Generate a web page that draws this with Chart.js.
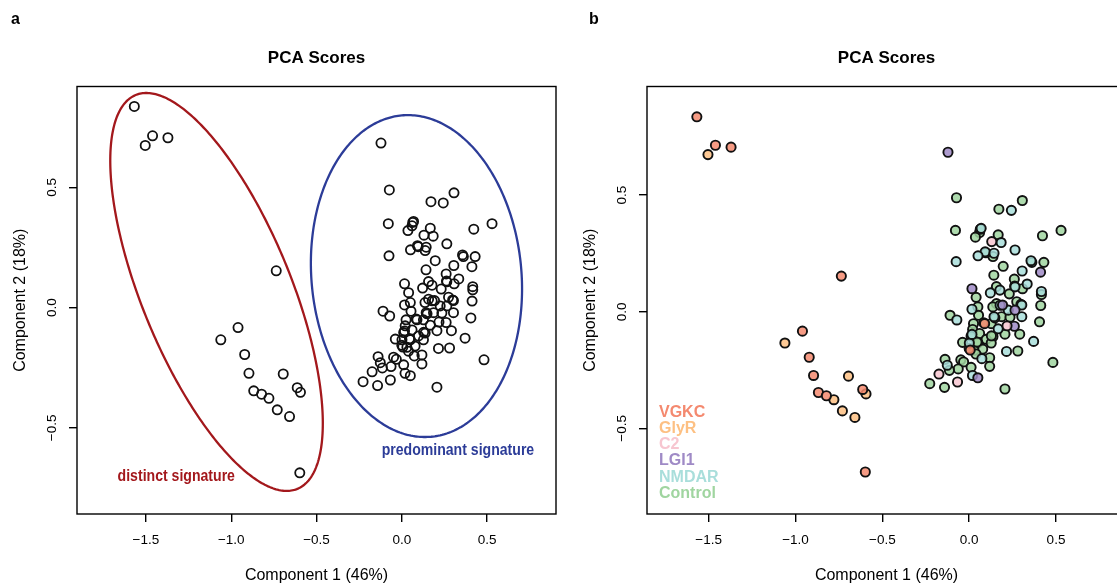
<!DOCTYPE html>
<html>
<head>
<meta charset="utf-8">
<script src="https://cdn.jsdelivr.net/npm/chart.js@4.4.1/dist/chart.umd.min.js"></script>
<style>
  html, body { margin: 0; padding: 0; background: #fff; overflow: hidden; }
  #wrap { position: relative; width: 1117px; height: 583px; overflow: hidden; }
  canvas { position: absolute; top: 0; }
  #pcaA { left: 0; }
  #pcaB { left: 570px; }
</style>
</head>
<body>
<div id="wrap">
  <canvas id="pcaA" width="570" height="583"></canvas>
  <canvas id="pcaB" width="570" height="583"></canvas>
</div>
<script>
// ---- data ----
const groups = ['VGKC', 'GlyR', 'C2', 'LGI1', 'NMDAR', 'Control'];
const groupColors = ['#F4896F', '#FDC083', '#F7C6D0', '#9F8AC6', '#A9DEDB', '#A0D5A0'];

const pcX = [
  -1.568, -1.461, -1.504, -1.371, -0.736, -0.960, -1.061, -0.921, -0.896, -0.695,
  -0.868, -0.822, -0.779, -0.613, -0.594, -0.730, -0.658, -0.598,
  -0.122, -0.073, 0.306, 0.171, 0.243, -0.079, 0.069, 0.060, 0.036, 0.167,
  0.130, 0.184, 0.422, 0.529, 0.264, 0.092, 0.051, 0.143, 0.137, -0.075,
  0.356, 0.361, 0.430, 0.196, 0.305, 0.411, 0.142, 0.260, 0.334, 0.264,
  0.157, 0.016, 0.122, 0.177, 0.231, 0.307, 0.416, 0.416, 0.040,
  0.016, 0.050, 0.157, 0.192, 0.136, 0.274, 0.303, 0.412, 0.225, 0.264,
  -0.110, -0.071, 0.054, 0.143, 0.186, 0.235, 0.303, 0.260, 0.218, 0.405,
  0.025, 0.089, 0.127, 0.167, 0.206, 0.291, 0.020, 0.060, 0.011, 0.137,
  0.098, -0.038, 0.001, 0.050, 0.127, 0.371, 0.030, 0.006, 0.078, 0.215,
  0.280, 0.039, 0.073, 0.118, -0.139, -0.048, -0.032, -0.126, -0.063, -0.114,
  0.011, 0.118, 0.482, -0.174, 0.019, 0.050, -0.227, -0.142, -0.067, 0.206,
  0.148, 0.084, 0.016, 0.045, 0.000, 0.128, 0.178, 0.262, 0.298, 0.064, 0.096
];
const pcY = [
  0.836, 0.714, 0.674, 0.706, 0.153, -0.083, -0.134, -0.195, -0.273, -0.276,
  -0.346, -0.360, -0.377, -0.333, -0.352, -0.425, -0.453, -0.687,
  0.684, 0.489, 0.477, 0.440, 0.435, 0.349, 0.358, 0.340, 0.320, 0.330,
  0.301, 0.297, 0.326, 0.349, 0.265, 0.257, 0.240, 0.251, 0.237, 0.215,
  0.219, 0.212, 0.212, 0.195, 0.175, 0.170, 0.157, 0.140, 0.119, 0.107,
  0.108, 0.099, 0.081, 0.093, 0.077, 0.099, 0.087, 0.074, 0.062,
  0.011, 0.021, 0.035, 0.029, 0.021, 0.043, 0.029, 0.027, 0.007, 0.007,
  -0.015, -0.035, -0.015, -0.021, -0.021, -0.023, -0.021, -0.062, -0.060, -0.043,
  -0.051, -0.051, -0.051, -0.073, -0.096, -0.096, -0.076, -0.093, -0.104, -0.106,
  -0.118, -0.131, -0.134, -0.134, -0.134, -0.127, -0.165, -0.164, -0.160, -0.170,
  -0.168, -0.181, -0.201, -0.197, -0.204, -0.206, -0.215, -0.229, -0.245, -0.251,
  -0.238, -0.234, -0.217, -0.267, -0.273, -0.283, -0.308, -0.324, -0.301, -0.331,
  -0.026, -0.047, -0.097, -0.130, -0.157, -0.103, 0.028, 0.110, 0.032, 0.354, 0.253
];
const pcGroup = [
  'VGKC', 'VGKC', 'GlyR', 'VGKC', 'VGKC', 'VGKC', 'GlyR', 'VGKC', 'VGKC', 'GlyR',
  'VGKC', 'VGKC', 'GlyR', 'VGKC', 'GlyR', 'GlyR', 'GlyR', 'VGKC',
  'LGI1', 'Control', 'Control', 'Control', 'NMDAR', 'Control', 'NMDAR', 'Control', 'Control', 'Control',
  'C2', 'NMDAR', 'Control', 'Control', 'NMDAR', 'NMDAR', 'NMDAR', 'NMDAR', 'Control', 'NMDAR',
  'NMDAR', 'Control', 'Control', 'Control', 'NMDAR', 'LGI1', 'Control', 'Control', 'NMDAR', 'NMDAR',
  'Control', 'LGI1', 'NMDAR', 'NMDAR', 'Control', 'Control', 'NMDAR', 'Control', 'Control',
  'NMDAR', 'Control', 'Control', 'LGI1', 'Control', 'Control', 'NMDAR', 'Control', 'NMDAR', 'LGI1',
  'Control', 'NMDAR', 'Control', 'NMDAR', 'Control', 'Control', 'NMDAR', 'LGI1', 'C2', 'Control',
  'Control', 'VGKC', 'Control', 'NMDAR', 'Control', 'Control', 'Control', 'Control', 'Control', 'Control',
  'Control', 'Control', 'NMDAR', 'Control', 'Control', 'NMDAR', 'Control', 'VGKC', 'Control', 'NMDAR',
  'Control', 'Control', 'NMDAR', 'Control', 'Control', 'Control', 'Control', 'NMDAR', 'Control', 'Control',
  'Control', 'Control', 'Control', 'C2', 'NMDAR', 'LGI1', 'Control', 'Control', 'C2', 'Control',
  'Control', 'Control', 'NMDAR', 'Control', 'Control', 'Control', 'NMDAR', 'Control', 'Control', 'Control', 'Control'
];

const xTicks = [-1.5, -1.0, -0.5, 0.0, 0.5];
const xTickLabels = ['\u22121.5', '\u22121.0', '\u22120.5', '0.0', '0.5'];
const yTicks = [-0.5, 0.0, 0.5];
const yTickLabels = ['\u22120.5', '0.0', '0.5'];

// signature ellipses (centre, half extents, correlation) in data units
const signatures = [
  { cx: -1.086, cy: 0.065, sx: 0.623, sy: 0.827, r: -0.66, color: '#A3181C',
    label: 'distinct signature', lx: -1.322, ly: -0.704 },
  { cx: 0.086, cy: 0.131, sx: 0.619, sy: 0.669, r: -0.08, color: '#2C3C98',
    label: 'predominant signature', lx: 0.329, ly: -0.592 }
];

const FONT = '"Liberation Sans", Arial, Helvetica, sans-serif';

function axis(min, max, ticks, labels, isX) {
  return {
    type: 'linear', min: min, max: max,
    afterBuildTicks: s => { s.ticks = ticks.map(v => ({ value: v })); },
    afterFit: s => { if (isX) s.height = 69; else s.width = 77; },
    border: { display: false },
    grid: { drawOnChartArea: false, drawTicks: true, tickLength: 8, color: '#000', lineWidth: 1.4 },
    ticks: isX
      ? { display: true, autoSkip: false, maxRotation: 0, padding: 10.5, color: '#000',
          font: { family: FONT, size: 13.5 }, callback: (v, i) => labels[i] }
      : { display: false }
  };
}

function decor(p) {
  return {
    id: 'decor',
    beforeDatasetsDraw(chart) {
      if (!p.ellipses) return;
      const { ctx, chartArea: a, scales: { x, y } } = chart;
      ctx.save();
      ctx.beginPath();
      ctx.rect(a.left, a.top, a.right - a.left, a.bottom - a.top);
      ctx.clip();
      p.ellipses.forEach(e => {
        const k = Math.sqrt(1 - e.r * e.r);
        ctx.beginPath();
        for (let i = 0; i <= 360; i++) {
          const t = i / 360 * 2 * Math.PI;
          const px = x.getPixelForValue(e.cx + e.sx * Math.cos(t));
          const py = y.getPixelForValue(e.cy + e.sy * (e.r * Math.cos(t) + k * Math.sin(t)));
          if (i) ctx.lineTo(px, py); else ctx.moveTo(px, py);
        }
        ctx.closePath();
        ctx.strokeStyle = e.color;
        ctx.lineWidth = 2.3;
        ctx.stroke();

        ctx.save();
        ctx.translate(x.getPixelForValue(e.lx), y.getPixelForValue(e.ly) + 4.5);
        ctx.scale(0.88, 1);
        ctx.font = 'bold 16px ' + FONT;
        ctx.fillStyle = e.color;
        ctx.textAlign = 'center';
        ctx.textBaseline = 'alphabetic';
        ctx.fillText(e.label, 0, 0);
        ctx.restore();
      });
      ctx.restore();
    },
    afterDraw(chart) {
      const { ctx, chartArea: a, scales: { y } } = chart;
      ctx.save();
      ctx.strokeStyle = '#000';
      ctx.lineWidth = 1.4;
      ctx.strokeRect(a.left, a.top, a.right - a.left, a.bottom - a.top);

      ctx.fillStyle = '#000';
      ctx.textBaseline = 'alphabetic';
      ctx.textAlign = 'left';
      ctx.font = 'bold 16px ' + FONT;
      ctx.fillText(p.letter, p.letterX, 24);

      ctx.textAlign = 'center';
      ctx.font = 'bold 17px ' + FONT;
      ctx.fillText('PCA Scores', (a.left + a.right) / 2, 62.5);

      ctx.font = '16px ' + FONT;
      ctx.fillText('Component 1 (46%)', (a.left + a.right) / 2, 580);

      ctx.save();
      ctx.translate(a.left - 52, (a.top + a.bottom) / 2);
      ctx.rotate(-Math.PI / 2);
      ctx.fillText('Component 2 (18%)', 0, 0);
      ctx.restore();

      ctx.font = '13.5px ' + FONT;
      yTicks.forEach((v, i) => {
        ctx.save();
        ctx.translate(a.left - 21, y.getPixelForValue(v));
        ctx.rotate(-Math.PI / 2);
        ctx.fillText(yTickLabels[i], 0, 0);
        ctx.restore();
      });

      if (p.legend) {
        ctx.font = 'bold 16px ' + FONT;
        ctx.textAlign = 'left';
        groups.forEach((g, i) => {
          ctx.fillStyle = groupColors[i];
          ctx.fillText(g, a.left + 12, a.bottom - 97.5 + i * 16.3);
        });
      }
      ctx.restore();
    }
  };
}

function points(filter) {
  const out = [];
  pcX.forEach((v, i) => { if (filter(pcGroup[i])) out.push({ x: v, y: pcY[i] }); });
  return out;
}

function hexA(hex, alpha) {
  const n = parseInt(hex.slice(1), 16);
  return 'rgba(' + (n >> 16) + ',' + ((n >> 8) & 255) + ',' + (n & 255) + ',' + alpha + ')';
}

function makePanel(id, xMin, xMax, yMin, yMax, datasets, p) {
  return new Chart(document.getElementById(id), {
    type: 'scatter',
    data: { datasets: datasets },
    options: {
      responsive: false,
      animation: false,
      events: [],
      devicePixelRatio: 1,
      layout: { padding: { top: 86.5, right: 14, bottom: 0, left: 0 } },
      plugins: { legend: { display: false }, tooltip: { enabled: false }, title: { display: false } },
      elements: { point: { radius: 4.6, hoverRadius: 4.6, borderWidth: 1.8, borderColor: '#111' } },
      scales: {
        x: axis(xMin, xMax, xTicks, xTickLabels, true),
        y: axis(yMin, yMax, yTicks, yTickLabels, false)
      }
    },
    plugins: [decor(p)]
  });
}

makePanel('pcaA', -1.904, 0.904, -0.858, 0.919,
  [{ label: 'all', data: points(() => true), backgroundColor: 'rgba(0,0,0,0)', borderColor: '#111' }],
  { letter: 'a', letterX: 11, ellipses: signatures, legend: false });

makePanel('pcaB', -1.855, 0.903, -0.867, 0.966,
  groups.map((g, i) => ({
    label: g,
    data: points(k => k === g),
    backgroundColor: hexA(groupColors[i], 0.85),
    borderColor: '#111',
    borderWidth: 1.9,
    order: i + 1
  })),
  { letter: 'b', letterX: 19, ellipses: null, legend: true });
</script>
</body>
</html>
